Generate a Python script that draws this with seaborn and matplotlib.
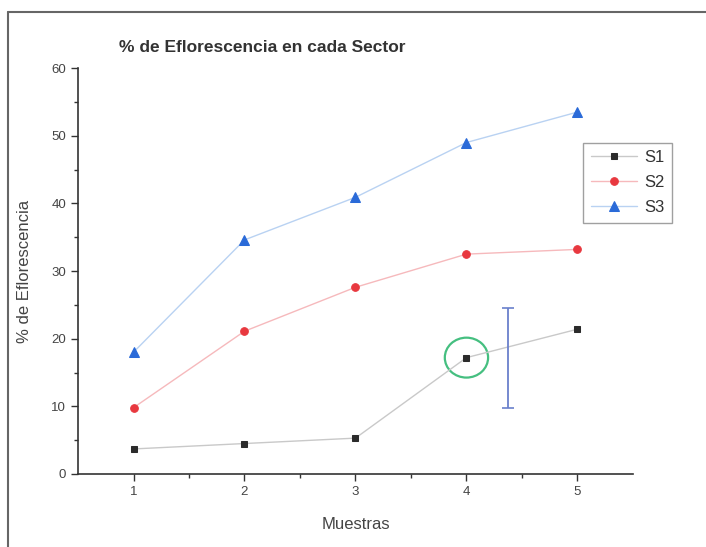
import numpy as np
import pandas as pd
import matplotlib
matplotlib.use("Agg")
import matplotlib.pyplot as plt
from matplotlib.patches import Ellipse
from matplotlib.lines import Line2D
import seaborn as sns

sns.set_theme(style="white")
plt.rcParams['font.family'] = ['Liberation Sans', 'DejaVu Sans']

# data
muestras = [1, 2, 3, 4, 5]
s1 = [3.7, 4.5, 5.3, 17.2, 21.4]
s2 = [9.8, 21.1, 27.6, 32.5, 33.2]
s3 = [18.0, 34.6, 40.9, 49.0, 53.5]
series_names = ["S1", "S2", "S3"]

# highlighted point + error bar
circ_x, circ_y = 4, 17.2
err_x, err_y, err_half = 4.37, 17.1, 7.4

fig = plt.figure(figsize=(7.06, 5.47), dpi=100)
ax = fig.add_axes([0.1105, 0.1335, 0.786, 0.742])

styles = [
    dict(color="#c9c9c9", marker="s", mfc="#2b2b2b", mec="#2b2b2b", ms=5),
    dict(color="#f6b9bc", marker="o", mfc="#e8383f", mec="#e8383f", ms=5.5),
    dict(color="#b9d2f2", marker="^", mfc="#2a6ad8", mec="#2a6ad8", ms=6.5),
]
for name, vals, st in zip(series_names, [s1, s2, s3], styles):
    sns.lineplot(x=muestras, y=vals, ax=ax, color=st["color"], linewidth=1.0,
                 marker=st["marker"], markerfacecolor=st["mfc"],
                 markeredgecolor=st["mec"], markersize=st["ms"], label=name)

# error bar
ax.errorbar([err_x], [err_y], yerr=[[err_half], [err_half]], fmt="none",
            ecolor="#6a80cc", elinewidth=1.3, capsize=4, capthick=1.2)

# green circle
ax.add_patch(Ellipse((circ_x, circ_y), 0.39, 5.9, fill=False,
                     edgecolor="#45bf80", linewidth=1.6))

ax.set_xlim(0.5, 5.5)
ax.set_ylim(0, 60)
ax.set_xticks(muestras)
ax.set_xticks(np.arange(1.5, 5.5, 1), minor=True)
ax.set_yticks(np.arange(0, 61, 10))
ax.set_yticks(np.arange(5, 60, 10), minor=True)
ax.tick_params(axis="both", which="major", direction="out", length=5, width=1,
               color="#333333", labelsize=9.5, labelcolor="#444444",
               bottom=True, left=True)
ax.tick_params(axis="both", which="minor", direction="out", length=3, width=1,
               color="#333333", bottom=True, left=True)
sns.despine(ax=ax)
for sp in ["left", "bottom"]:
    ax.spines[sp].set_color("#333333")
    ax.spines[sp].set_linewidth(1.2)

ax.set_xlabel("Muestras", fontsize=12, color="#444444", labelpad=14)
ax.set_ylabel("% de Eflorescencia", fontsize=12, color="#444444", labelpad=14)

fig.text(0.372, 0.914, "% de Eflorescencia en cada Sector", ha="center",
         va="center", fontsize=12.5, fontweight="bold", color="#333333")

leg = ax.legend(loc="upper left", bbox_to_anchor=(0.826, 0.739),
                bbox_transform=fig.transFigure, borderaxespad=0,
                fontsize=12, frameon=True,
                fancybox=False, edgecolor="#888888", borderpad=0.45,
                labelspacing=0.6, handlelength=2.8, handletextpad=0.4)
leg.get_frame().set_linewidth(1.0)
for t in leg.get_texts():
    t.set_color("#333333")

# outer border (left and top)
fig.add_artist(Line2D([8 / 706, 8 / 706], [0, 1 - 12 / 547],
                      transform=fig.transFigure, color="#666666", linewidth=1.5))
fig.add_artist(Line2D([8 / 706, 1], [1 - 12 / 547, 1 - 12 / 547],
                      transform=fig.transFigure, color="#666666", linewidth=1.5))

fig.savefig("out.png", dpi=100)
